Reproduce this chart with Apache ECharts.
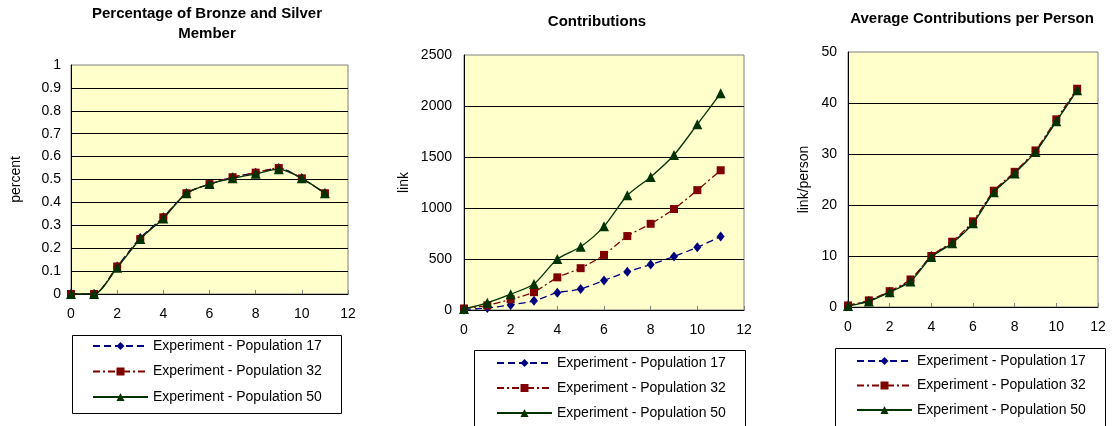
<!DOCTYPE html>
<html>
<head>
<meta charset="utf-8">
<script src="https://cdn.jsdelivr.net/npm/echarts@6/dist/echarts.min.js"></script>
<style>
html,body{margin:0;padding:0;background:#fff;}
#c{width:1115px;height:426px;}
</style>
</head>
<body>
<div id="c"></div>
<script>
// ---- data ----
var steps = [0, 1, 2, 3, 4, 5, 6, 7, 8, 9, 10, 11];
var seriesNames = ['Experiment - Population 17', 'Experiment - Population 32', 'Experiment - Population 50'];
var titles = ['Percentage of Bronze and Silver\nMember', 'Contributions', 'Average Contributions per Person'];
var yNames = ['percent', 'link', 'link/person'];

var pct17 = [0, 0, 0.12, 0.245, 0.335, 0.44, 0.48, 0.51, 0.53, 0.55, 0.505, 0.44];
var pct32 = [0, 0, 0.12, 0.24, 0.335, 0.44, 0.48, 0.51, 0.53, 0.55, 0.505, 0.44];
var pct50 = [0, 0, 0.115, 0.24, 0.33, 0.44, 0.48, 0.505, 0.525, 0.545, 0.505, 0.44];

var con17 = [5, 20, 50, 90, 170, 205, 290, 375, 445, 525, 615, 720];
var con32 = [15, 45, 105, 175, 320, 410, 540, 725, 845, 990, 1175, 1370];
var con50 = [10, 70, 155, 255, 500, 620, 820, 1125, 1305, 1520, 1820, 2125];

var avg17 = [0.3, 1.2, 3.0, 5.2, 10.0, 12.6, 16.5, 22.6, 26.3, 30.5, 36.5, 42.6];
var avg32 = [0.3, 1.3, 3.1, 5.4, 10.0, 12.8, 16.8, 22.8, 26.5, 30.7, 36.8, 42.8];
var avg50 = [0.2, 1.1, 2.9, 5.0, 9.8, 12.5, 16.4, 22.5, 26.2, 30.4, 36.4, 42.5];

var yMax = [1, 2500, 50];
var yInterval = [0.1, 500, 10];

// ---- styling ----
var FONT = 'Liberation Sans, Arial, sans-serif';
var colors = ['#000080', '#800000', '#003300'];
var symbols = ['diamond', 'rect', 'triangle'];
var symbolSizes = [[8, 10], 8, 10];
var dashTypes = [[7, 4], [7, 3, 2, 3], 'solid'];

var grids = [
  {left: 71, top: 65, width: 277, height: 229},
  {left: 464, top: 55, width: 280, height: 255},
  {left: 848, top: 52, width: 250, height: 255}
];
var nameGaps = [48, 53, 37];
var yMargins = [10, 12, 11];
var titlePos = [{x: 202, y: -1}, {x: 592, y: 7}, {x: 967, y: 4}];
var legendPos = [{left: 92, top: 339, gap: 11.5}, {left: 496, top: 356, gap: 11}, {left: 856, top: 354, gap: 10.5}];
var legendBoxes = [
  {x: 70, y: 333, w: 269, h: 78},
  {x: 472, y: 348, w: 271, h: 90},
  {x: 833, y: 346, w: 270, h: 90}
];

var dataSets = [[pct17, pct32, pct50], [con17, con32, con50], [avg17, avg32, avg50]];

function pairs(arr) {
  return steps.map(function (s, i) { return [s, arr[i]]; });
}

var option = {
  animation: false,
  backgroundColor: '#ffffff',
  textStyle: {fontFamily: FONT, color: '#000'},
  title: titles.map(function (t, i) {
    return {
      text: t,
      left: titlePos[i].x,
      top: titlePos[i].y,
      textAlign: 'center',
      textStyle: {fontFamily: FONT, fontSize: 15, fontWeight: 'bold', color: '#000', lineHeight: 20}
    };
  }),
  grid: grids.map(function (g) {
    return {
      left: g.left, top: g.top, width: g.width, height: g.height,
      show: true, backgroundColor: '#FFFFCC', borderColor: '#808080', borderWidth: 1,
      containLabel: false
    };
  }),
  xAxis: grids.map(function (g, i) {
    return {
      type: 'value', gridIndex: i, min: 0, max: 12, interval: 2,
      axisLine: {show: true, lineStyle: {color: '#000', width: 1}},
      axisTick: {show: true, inside: true, length: 4, lineStyle: {color: '#808080'}},
      axisLabel: {fontFamily: FONT, fontSize: 14, color: '#000', margin: 13},
      splitLine: {show: false}
    };
  }),
  yAxis: grids.map(function (g, i) {
    return {
      type: 'value', gridIndex: i, min: 0, max: yMax[i], interval: yInterval[i],
      name: yNames[i], nameLocation: 'middle', nameGap: nameGaps[i], nameRotate: 90,
      nameTextStyle: {fontFamily: FONT, fontSize: 14, color: '#000'},
      axisLine: {show: true, lineStyle: {color: '#000', width: 1}},
      axisTick: {show: false},
      axisLabel: {fontFamily: FONT, fontSize: 14, color: '#000', margin: yMargins[i],
        formatter: function (v) { return String(Math.round(v * 1000) / 1000); }},
      splitLine: {show: true, showMaxLine: false, lineStyle: {color: '#000', width: 1}}
    };
  }),
  legend: legendPos.map(function (p) {
    return {
      orient: 'horizontal', left: p.left, top: p.top, width: 225,
      padding: 0,
      itemWidth: 55, itemHeight: 10, itemGap: p.gap,
      data: seriesNames,
      selectedMode: false,
      textStyle: {fontFamily: FONT, fontSize: 14, color: '#000'}
    };
  }),
  graphic: legendBoxes.map(function (b) {
    return {
      type: 'rect', left: b.x, top: b.y, silent: true, z: 1,
      shape: {width: b.w, height: b.h},
      style: {fill: 'none', stroke: '#000', lineWidth: 1}
    };
  }),
  series: []
};

for (var gi = 0; gi < 3; gi++) {
  for (var si = 0; si < 3; si++) {
    option.series.push({
      type: 'line',
      name: seriesNames[si],
      xAxisIndex: gi,
      yAxisIndex: gi,
      data: pairs(dataSets[gi][si]),
      smooth: 0.25,
      symbol: symbols[si],
      symbolSize: symbolSizes[si],
      showAllSymbol: true,
      itemStyle: {color: colors[si]},
      lineStyle: {color: colors[si], width: 1.3, type: dashTypes[si]},
      z: 3 + si
    });
  }
}

var chart = echarts.init(document.getElementById('c'), null, {renderer: 'canvas'});
chart.setOption(option);
</script>
</body>
</html>
